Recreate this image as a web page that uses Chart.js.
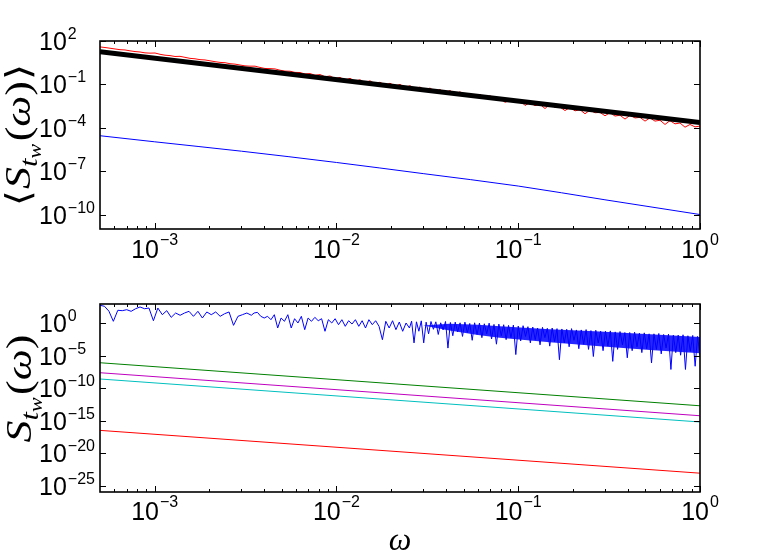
<!DOCTYPE html>
<html><head><meta charset="utf-8">
<script src="https://cdn.jsdelivr.net/npm/chart.js@4/dist/chart.umd.min.js"></script>
<style>
html,body{margin:0;padding:0;background:#fff;}
#wrap{position:relative;width:773px;height:555px;overflow:hidden;}
canvas{position:absolute;left:0;}
#c1{top:0}
#c2{top:290px}
</style></head><body>
<div id="wrap"><canvas id="c1" width="773" height="290"></canvas><canvas id="c2" width="773" height="265"></canvas></div>
<script>
// ---------- axes ----------
const xRange = [5e-4, 1];
const xTickExps = [-3, -2, -1, 0];
const topYRange = [1e-11, 1e2];
const topYTickExps = [2, -1, -4, -7, -10];
const botYRange = [1e-26, 1e3];
const botYTickExps = [0, -5, -10, -15, -20, -25];

// ---------- top panel data ----------
const topBlackOmega = [5e-4, 1];
const topBlackVal = [18, 2.3e-4];
const topBlueOmega = [5e-4, 1e-3, 3e-3, 1e-2, 3e-2, 1e-1, 3e-1, 1];
const topBlueLog = [-4.55, -4.97, -5.62, -6.40, -7.17, -8.03, -8.98, -10.0];
// red (noisy) : log10 values on a log-uniform omega grid 5e-4 .. 1
const topRedRange = [5e-4, 1];
const topRedLog = [
 1.59,1.55,1.50,1.45,1.40,1.38,1.32,1.27,1.24,1.18,
 1.16,1.17,1.08,1.02,0.99,0.93,0.94,0.87,0.80,0.77,
 0.71,0.69,0.63,0.57,0.52,0.50,0.43,0.40,0.34,0.28,
 0.26,0.26,0.17,0.10,0.09,0.07,-0.02,-0.08,-0.09,-0.17,
 -0.18,-0.28,-0.25,-0.37,-0.32,-0.47,-0.42,-0.60,-0.52,-0.72,
 -0.58,-0.79,-0.68,-0.89,-0.75,-0.96,-0.85,-1.07,-0.92,-1.13,
 -1.00,-1.23,-1.09,-1.33,-1.18,-1.42,-1.25,-1.51,-1.35,-1.60,
 -1.42,-1.69,-1.51,-1.79,-1.61,-1.88,-1.68,-1.97,-1.78,-2.06,
 -1.95,-2.24,-2.10,-2.24,-2.08,-2.46,-2.25,-2.47,-2.38,-2.67,
 -2.37,-2.60,-2.57,-2.81,-2.59,-2.83,-2.75,-3.03,-2.78,-2.96,
 -2.94,-3.17,-2.96,-3.19,-3.13,-3.40,-3.14,-3.32,-3.28,-3.54,
 -3.32,-3.54,-3.48,-3.77,-3.51,-3.73,-3.67,-3.96,-3.77,-3.94,
 -3.88];

// ---------- bottom panel data ----------
const botGreenOmega = [5e-4, 1];
const botGreenVal = [8.7e-7, 2.0e-13];
const botMagentaOmega = [5e-4, 1];
const botMagentaVal = [2.5e-8, 5.8e-15];
const botCyanOmega = [5e-4, 1];
const botCyanVal = [2.7e-9, 6.3e-16];
const botRedOmega = [5e-4, 1];
const botRedVal = [3.2e-17, 8.0e-24];
// blue (noisy): three stretches, log10 values on log-uniform omega grids
const botBlueRangeA = [5e-4, 3.40e-3];
const botBlueLogA = [2.8,2.65,1.9,0.33,2.03,1.97,2.12,1.87,2.27,2.54,
 2.27,2.38,0.42,2.38,1.35,1.97,0.94,1.61,1.26,1.61,
 1.87,1.10,1.87,0.84,1.77,1.35,1.77,1.10,1.50,1.77,
 -0.29,1.10,1.35,1.61,1.26];
const botBlueRangeB = [3.52e-3, 2.52e-2];
const botBlueLogB = [1.61,1.71,1.10,0.84,1.10,0.58,1.35,-0.70,0.84,0.33,
 1.35,-0.70,0.73,0.07,1.10,-0.96,0.84,0.33,0.94,0.42,
 0.73,-1.21,0.58,0.07,0.73,-0.19,0.58,-0.44,0.42,-0.09,
 0.58,-0.44,0.42,-0.70,0.58,-0.19,0.42,-0.44,-2.51,0.33,
 -0.70,0.42,-0.96,0.22,-1.21,0.07,-0.70];
const botBlueRangeC = [2.59e-2, 1];
const botBlueLogC = [0.35,-3.0,0.25,-1.2,0.4,-3.0,0.2,-1.6,0.3,-0.9,
 0.25,-1.7,0.1,-1.0,0.3,-3.8,0.15,-1.9,0.2,-1.3,
 0.1,-2.0,0.2,-1.4,0.0,-2.6,0.1,-1.7,0.05,-2.2,
 -0.05,-1.6,0.05,-2.4,-0.15,-3.2,-0.1,-1.9,-0.2,-2.5,
 -0.3,-2.2,-0.25,-4.8,-0.4,-2.7,-0.35,-2.0,-0.5,-3.0,
 -0.55,-2.5,-0.7,-3.3,-0.6,-2.2,-0.75,-3.5,-0.7,-2.8,
 -0.8,-5.6,-0.85,-3.0,-0.9,-3.6,-0.8,-2.6,-1.0,-3.9,
 -1.0,-3.2,-0.95,-4.0,-1.1,-5.1,-1.05,-3.0,-1.2,-4.2,
 -1.2,-3.5,-1.15,-5.85,-1.3,-4.0,-1.25,-3.3,-1.4,-5.3,
 -1.4,-4.2,-1.35,-3.6,-1.5,-4.5,-1.45,-3.9,-1.6,-6.1,
 -1.6,-4.0,-1.55,-4.7,-1.7,-3.8,-1.65,-7.1,-1.8,-4.5,
 -1.8,-4.9,-1.75,-7.1,-1.9,-4.3,-1.85,-6.6,-2.0,-5.0];
// solid core of the dense blue band (upper / lower edge, log10)
const botBlueCoreOmega = [0.0300, 0.0419, 0.0600, 0.0791, 0.149, 0.281, 0.531, 1];
const botBlueCoreUpperLog = [-0.3, -0.05, -0.2, -0.45, -0.9, -1.25, -1.65, -2.1];
const botBlueCoreLowerLog = [-0.3, -1.1, -1.8, -2.2, -2.9, -3.5, -4.1, -4.6];

// ---------- helpers ----------
const logGrid = (r, n) => Array.from({length: n}, (_, i) =>
  Math.pow(10, Math.log10(r[0]) + (Math.log10(r[1]) - Math.log10(r[0])) * i / (n - 1)));
const ptsLog = (xs, logs) => logs.map((v, i) => ({x: xs[i], y: Math.pow(10, v)}));
const ptsVal = (xs, vals) => vals.map((v, i) => ({x: xs[i], y: v}));
const expStr = e => (e < 0 ? '\u2212' + Math.abs(e) : String(e));

function drawRuns(ctx, runs, x, y, align) {
  let total = 0;
  const ws = runs.map(r => { ctx.font = r.f; const w = ctx.measureText(r.t).width + (r.gap || 0); total += w; return w; });
  let cx = align === 'center' ? x - total / 2 : x;
  ctx.textBaseline = 'alphabetic'; ctx.textAlign = 'left';
  runs.forEach((r, i) => { ctx.font = r.f; ctx.fillText(r.t, cx, y + (r.dy || 0)); cx += ws[i]; });
}

const TICKF = '25px "Liberation Sans", Arial, sans-serif';
const EXPF = '16px "Liberation Sans", Arial, sans-serif';

const decoPlugin = {
  id: 'deco',
  afterDatasetsDraw(chart, args, o) {
    const {ctx, chartArea: a} = chart;
    const xs = chart.scales.x, ys = chart.scales.y;
    ctx.save();
    ctx.strokeStyle = '#000'; ctx.fillStyle = '#000'; ctx.lineWidth = 1;
    const seg = (x1, y1, x2, y2) => { ctx.beginPath(); ctx.moveTo(x1, y1); ctx.lineTo(x2, y2); ctx.stroke(); };
    // x ticks (inside, top and bottom)
    for (let e = -4; e <= 0; e++) for (let m = 1; m <= 9; m++) {
      const v = m * Math.pow(10, e);
      if (v <= xRange[0] * 1.01 || v > xRange[1] * 1.001) continue;
      const px = Math.round(xs.getPixelForValue(v)) + 0.5;
      const len = m === 1 ? 6 : 3;
      seg(px, a.bottom, px, a.bottom - len); seg(px, a.top, px, a.top + len);
    }
    // y ticks (inside, left and right)
    o.yExps.forEach(e => {
      const py = Math.round(ys.getPixelForValue(Math.pow(10, e))) + 0.5;
      seg(a.left, py, a.left + 6, py); seg(a.right, py, a.right - 6, py);
    });
    // frame
    ctx.lineWidth = 1.6;
    ctx.strokeRect(a.left, a.top, a.right - a.left, a.bottom - a.top);
    // y tick labels
    o.yExps.forEach(e => {
      const py = ys.getPixelForValue(Math.pow(10, e));
      drawRuns(ctx, [{t: '10', f: TICKF, gap: 1}, {t: expStr(e), f: EXPF, dy: -11}], 39, py + 9, 'left');
    });
    // x tick labels
    xTickExps.forEach(e => {
      const px = xs.getPixelForValue(Math.pow(10, e));
      drawRuns(ctx, [{t: '10', f: TICKF, gap: 1}, {t: expStr(e), f: EXPF, dy: -13}], px, a.bottom + o.xLabDy, 'center');
    });
    // y title (rotated, stretched along reading direction)
    ctx.save();
    ctx.translate(o.yTitleX, (a.top + a.bottom) / 2 + o.yTitleShift);
    ctx.rotate(-Math.PI / 2);
    ctx.scale(o.yTitleStretch, 1);
    drawRuns(ctx, o.yTitle, 0, 0, 'center');
    ctx.restore();
    // x title
    if (o.xTitle) drawRuns(ctx, o.xTitle, (a.left + a.right) / 2, o.xTitleY, 'center');
    ctx.restore();
  }
};

const SER = '"Liberation Serif", "DejaVu Serif", serif';
const topTitle = [
  {t: '\u27E8', f: '34px "DejaVu Serif"', gap: 1},
  {t: 'S', f: 'italic 36px ' + SER},
  {t: 't', f: 'italic 25px ' + SER, dy: 7},
  {t: 'w', f: 'italic 18px ' + SER, dy: 11, gap: 2},
  {t: '(', f: '36px ' + SER},
  {t: '\u03C9', f: 'italic 36px ' + SER},
  {t: ')', f: '36px ' + SER, gap: 1},
  {t: '\u27E9', f: '34px "DejaVu Serif"'}
];
const botTitle = topTitle.slice(1, 7);

const lineDs = (data, color, width, order, extra) => Object.assign({
  data, borderColor: color, backgroundColor: color, borderWidth: width,
  pointRadius: 0, fill: false, tension: 0, order, clip: 0
}, extra || {});

function baseOptions(yRange, padding, deco) {
  return {
    responsive: false, animation: false, events: [],
    layout: {padding},
    plugins: {legend: {display: false}, tooltip: {enabled: false}, deco},
    scales: {
      x: {type: 'logarithmic', min: xRange[0], max: xRange[1], display: false},
      y: {type: 'logarithmic', min: yRange[0], max: yRange[1], display: false}
    }
  };
}

// ---------- top chart ----------
const redX = logGrid(topRedRange, topRedLog.length);
new Chart(document.getElementById('c1'), {
  type: 'line',
  data: {datasets: [
    lineDs(ptsVal(topBlackOmega, topBlackVal), '#000000', 5, 0),
    lineDs(ptsLog(redX, topRedLog), '#ff0000', 1, 1),
    lineDs(ptsLog(topBlueOmega, topBlueLog), '#0000ff', 1, 2, {cubicInterpolationMode: 'monotone'})
  ]},
  options: baseOptions(topYRange, {left: 100, right: 73, top: 41, bottom: 61},
    {yExps: topYTickExps, xLabDy: 29, yTitle: topTitle, yTitleX: 30, yTitleShift: 0, yTitleStretch: 1.22, xTitle: null}),
  plugins: [decoPlugin]
});

// ---------- bottom chart ----------
const blueX = [].concat(logGrid(botBlueRangeA, botBlueLogA.length),
  logGrid(botBlueRangeB, botBlueLogB.length), logGrid(botBlueRangeC, botBlueLogC.length));
const blueLog = [].concat(botBlueLogA, botBlueLogB, botBlueLogC);
new Chart(document.getElementById('c2'), {
  type: 'line',
  data: {datasets: [
    lineDs(ptsLog(botBlueCoreOmega, botBlueCoreUpperLog), 'rgba(0,0,255,0.9)', 0, 6,
      {fill: '+1', backgroundColor: 'rgba(0,0,255,0.85)'}),
    lineDs(ptsLog(botBlueCoreOmega, botBlueCoreLowerLog), 'rgba(0,0,255,0.9)', 0, 7),
    lineDs(ptsLog(blueX, blueLog), '#0000ff', 1, 0),
    lineDs(ptsVal(botGreenOmega, botGreenVal), '#008000', 1, 1),
    lineDs(ptsVal(botMagentaOmega, botMagentaVal), '#bf00bf', 1, 2),
    lineDs(ptsVal(botCyanOmega, botCyanVal), '#00bfbf', 1, 3),
    lineDs(ptsVal(botRedOmega, botRedVal), '#ff0000', 1, 4)
  ]},
  options: baseOptions(botYRange, {left: 100, right: 73, top: 14, bottom: 63},
    {yExps: botYTickExps, xLabDy: 28, yTitle: botTitle, yTitleX: 31, yTitleShift: -10, yTitleStretch: 1.22,
     xTitle: [{t: '\u03C9', f: 'italic 32px ' + SER}], xTitleY: 260}),
  plugins: [decoPlugin]
});
</script>
</body></html>
